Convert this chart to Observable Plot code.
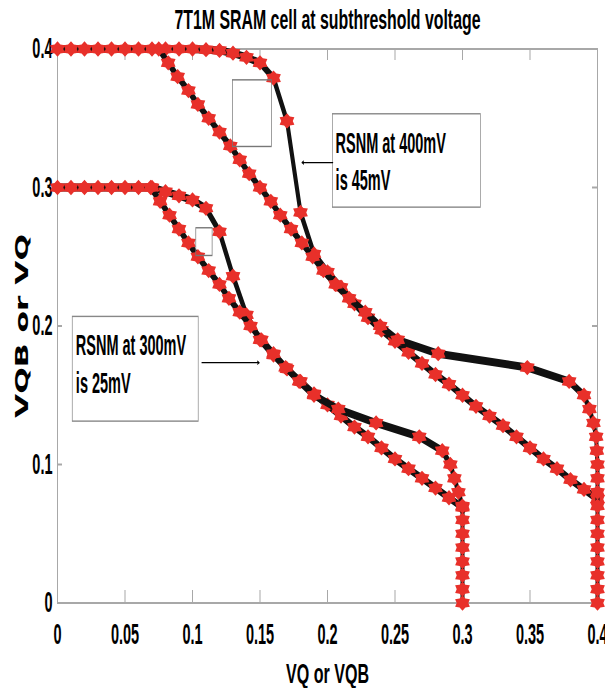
<!DOCTYPE html>
<html><head><meta charset="utf-8">
<script src="https://cdn.jsdelivr.net/npm/d3@7"></script>
<script src="https://cdn.jsdelivr.net/npm/@observablehq/plot@0.6"></script>
<style>
html,body{margin:0;padding:0;background:#fff;}
#chart{width:605px;height:688px;overflow:hidden;}
</style></head><body><div id="chart"></div>
<script>
// ---- data ----
const sweep400 = [0,0.01,0.02,0.03,0.04,0.05,0.06,0.07,0.08,0.09,0.10,0.11,0.12,0.13,0.14,0.15,0.16,0.17,0.18,0.19,0.20,0.21,0.22,0.23,0.24,0.25,0.26,0.27,0.28,0.29,0.30,0.31,0.32,0.33,0.34,0.35,0.36,0.37,0.38,0.39,0.40];
const vtc400 = [0.4,0.4,0.4,0.4,0.4,0.4,0.4,0.4,0.4,0.4,0.4,0.3995,0.399,0.397,0.394,0.39,0.379,0.348,0.282,0.252,0.239,0.228,0.216,0.206,0.197,0.189,0.181,0.173,0.165,0.158,0.150,0.142,0.135,0.128,0.120,0.112,0.104,0.097,0.089,0.082,0.075];
const sweep300 = [0,0.01,0.02,0.03,0.04,0.05,0.06,0.07,0.08,0.09,0.10,0.11,0.12,0.13,0.14,0.15,0.16,0.17,0.18,0.19,0.20,0.21,0.22,0.23,0.24,0.25,0.26,0.27,0.28,0.29,0.30];
const vtc300 = [0.3,0.3,0.3,0.3,0.3,0.3,0.3,0.3,0.297,0.294,0.291,0.285,0.268,0.236,0.208,0.19,0.179,0.169,0.16,0.151,0.143,0.135,0.127,0.12,0.112,0.104,0.097,0.09,0.083,0.076,0.069];

const xTicks = [0,0.05,0.1,0.15,0.2,0.25,0.3,0.35,0.4];
const xTickLabels = ["0","0.05","0.1","0.15","0.2","0.25","0.3","0.35","0.4"];
const yTicks = [0,0.1,0.2,0.3,0.4];
const yTickLabels = ["0","0.1","0.2","0.3","0.4"];

const titleText = "7T1M SRAM cell at subthreshold voltage";
const xLabel = "VQ or VQB";
const yLabel = "VQB or VQ";

const noteText = ["RSNM at 400mV","is 45mV","RSNM at 300mV","is 25mV"];
const noteX = [0.206,0.206,0.0136,0.0136];
const noteY = [0.3248,0.2984,0.1793,0.1516];

const labelBoxX1 = [0.204,0.0113];
const labelBoxX2 = [0.3136,0.1046];
const labelBoxY1 = [0.2851,0.1306];
const labelBoxY2 = [0.3525,0.2062];

const snmBoxX1 = [0.130,0.1028];
const snmBoxX2 = [0.1589,0.1149];
const snmBoxY1 = [0.3289,0.2502];
const snmBoxY2 = [0.3770,0.2702];

const arrowX1 = [0.204,0.1069];
const arrowX2 = [0.181,0.1495];
const arrowY = [0.318,0.1735];

// ---- curves: (Vin, Vout) and mirrored (Vout, Vin) ----
const A400 = sweep400.map((v,i)=>({x:v, y:vtc400[i]}));
const B400 = sweep400.map((v,i)=>({x:vtc400[i], y:v}));
const A300 = sweep300.map((v,i)=>({x:v, y:vtc300[i]}));
const B300 = sweep300.map((v,i)=>({x:vtc300[i], y:v}));

// hexagram marker (drawn in the vertically stretched space)
const hexagram = {
  draw(ctx, size) {
    const R = Math.sqrt(size/Math.PI), r = R*0.68, ys = 0.45;
    for (let k=0;k<12;k++){
      const a = -Math.PI/2 + k*Math.PI/6, rad = k%2===0 ? R : r;
      const px = rad*Math.cos(a), py = rad*Math.sin(a)*ys;
      if (k===0) ctx.moveTo(px,py); else ctx.lineTo(px,py);
    }
    ctx.closePath();
  }
};

const W = 605, H = 344, ML = 57, MR = 8, MT = 24, MB = 43;
const FW = W-ML-MR, FH = H-MT-MB;
const red = "#e8302a", ink = "#111", grid = "#a8a8a8";
const font = "'Liberation Sans', Arial, sans-serif";

function curve(data){
  return [
    Plot.line(data,{x:"x",y:"y",stroke:ink,strokeWidth:4}),
    Plot.dot(data,{x:"x",y:"y",symbol:hexagram,r:8.5,fill:red,stroke:"none"})
  ];
}

const svg = Plot.plot({
  width: W, height: H,
  marginLeft: ML, marginRight: MR, marginTop: MT, marginBottom: MB,
  x: {domain:[0,0.4], axis:null},
  y: {domain:[0,0.4], axis:null},
  style: {fontFamily: font, background:"#fff", color:"#000"},
  marks: [
    Plot.frame({stroke:grid, strokeWidth:1}),
    Plot.tickX(xTicks,{x:d=>d, stroke:grid, insetTop:FH-6}),
    Plot.tickX(xTicks,{x:d=>d, stroke:grid, insetBottom:FH-6}),
    Plot.tickY(yTicks,{y:d=>d, stroke:grid, insetRight:FW-5}),
    Plot.tickY(yTicks,{y:d=>d, stroke:grid, insetLeft:FW-5}),
    Plot.text(xTicks,{x:d=>d, text:(d,i)=>xTickLabels[i], frameAnchor:"bottom", lineAnchor:"top", dy:10, fontSize:14.5, fontWeight:"bold"}),
    Plot.text(yTicks,{y:d=>d, text:(d,i)=>yTickLabels[i], frameAnchor:"left", textAnchor:"end", lineAnchor:"middle", dx:-5, fontSize:14.5, fontWeight:"bold"}),
    ...curve(A400), ...curve(B400), ...curve(A300), ...curve(B300),
    Plot.rect([0,1],{x1:i=>snmBoxX1[i], x2:i=>snmBoxX2[i], y1:i=>snmBoxY1[i], y2:i=>snmBoxY2[i], fill:"none", stroke:"#777", strokeWidth:0.7}),
    Plot.rect([0,1],{x1:i=>labelBoxX1[i], x2:i=>labelBoxX2[i], y1:i=>labelBoxY1[i], y2:i=>labelBoxY2[i], fill:"#fff", stroke:"#888", strokeWidth:0.7}),
    Plot.text([0,1,2,3],{x:i=>noteX[i], y:i=>noteY[i], text:i=>noteText[i], textAnchor:"start", lineAnchor:"bottom", fontSize:14.5, fontWeight:"bold"}),
    Plot.arrow([0,1],{x1:i=>arrowX1[i], x2:i=>arrowX2[i], y1:i=>arrowY[i], y2:i=>arrowY[i], stroke:"#000", strokeWidth:0.6, headLength:5, headAngle:45}),
    Plot.text([titleText],{text:d=>d, frameAnchor:"top", lineAnchor:"middle", dy:-14.2, fontSize:13.5, fontWeight:"bold"}),
    Plot.text([xLabel],{text:d=>d, frameAnchor:"bottom", lineAnchor:"middle", dy:35.5, fontSize:14, fontWeight:"bold"}),
    Plot.text([yLabel],{text:d=>d, frameAnchor:"left", textAnchor:"middle", rotate:-90, lineAnchor:"middle", dx:-35, fontSize:17, fontWeight:"900", fontFamily:"'DejaVu Sans', 'Liberation Sans', sans-serif"})
  ]
});

// stretch the drawing vertically to the 688px frame
svg.setAttribute("viewBox", `0 0 ${W} ${H}`);
svg.setAttribute("preserveAspectRatio","none");
svg.setAttribute("width", W);
svg.setAttribute("height", 688);
svg.style.width = W + "px";
svg.style.height = "688px";
svg.style.maxWidth = "none";
document.getElementById("chart").appendChild(svg);

for (const t of svg.querySelectorAll("text")) {
  if (t.textContent === titleText) { t.setAttribute("textLength", 306); t.setAttribute("lengthAdjust","spacingAndGlyphs"); }
  if (t.textContent === xLabel) { t.setAttribute("textLength", 83); t.setAttribute("lengthAdjust","spacingAndGlyphs"); }
  if (t.textContent === yLabel) { t.setAttribute("textLength", 92); t.setAttribute("lengthAdjust","spacingAndGlyphs"); }
}
</script>
</body></html>
